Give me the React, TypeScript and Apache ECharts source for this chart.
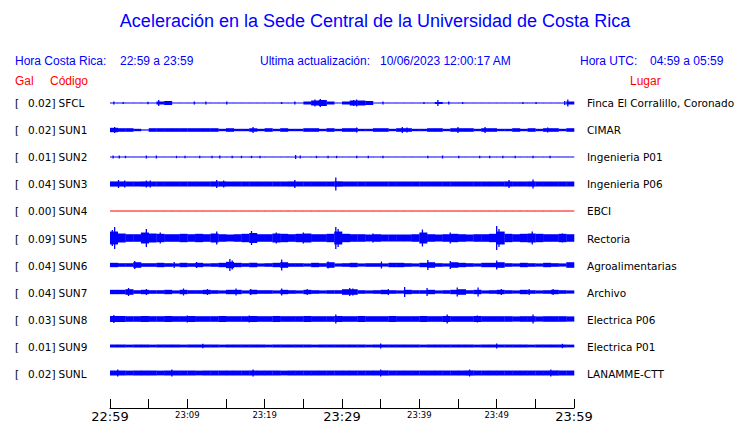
import React, { useEffect, useRef } from "react";
import * as echarts from "echarts";

// ---------- data ----------
const codes = ["SFCL", "SUN1", "SUN2", "SUN3", "SUN4", "SUN5", "SUN6", "SUN7", "SUN8", "SUN9", "SUNL"];
const peakGal = ["0.02", "0.02", "0.01", "0.04", "0.00", "0.09", "0.04", "0.04", "0.03", "0.01", "0.02"];
const places = [
  "Finca El Corralillo, Coronado",
  "CIMAR",
  "Ingenieria P01",
  "Ingenieria P06",
  "EBCI",
  "Rectoria",
  "Agroalimentarias",
  "Archivo",
  "Electrica P06",
  "Electrica P01",
  "LANAMME-CTT",
];
const tickMinutes = [0, 10, 20, 30, 40, 50, 60];
const tickLabels = ["22:59", "23:09", "23:19", "23:29", "23:39", "23:49", "23:59"];
const majorLabels = ["22:59", "23:29", "23:59"];

// per-minute envelope (half amplitude, relative units) for each station
const envSFCL = [0.5,0.5,0.5,0.5,0.5,0.5,1.5,2,0.5,0.5, 0.5,0.5,0.5,0.5,0.5,0.5,0.5,0.5,0.5,0.5, 0.5,0.5,0.5,0.5,0.5,1.5,2.5,3,1.5,0.5, 1.5,2.5,2.5,2,0.5,0.5,0.5,0.5,0.5,0.5, 0.5,0.5,1,0.5,0.5,0.5,0.5,0.5,0.5,0.5, 0.5,0.5,0.5,0.5,0.5,0.5,0.5,0.5,0.5,1.5];
const envSUN1 = [2.2,1.8,1.8,1.2,0.6,1.8,1.8,1.8,1.8,1.8, 1.8,1.8,1.8,1.8,1.2,1.8,1.2,1.2,1.8,1.2, 1.8,1.2,1.8,1.2,1.2,1.8,1.8,1.2,1.8,1.2, 1.8,1.8,1.2,1.2,1.8,1.8,1.2,1.8,1.8,1.2, 1.2,1.8,1.8,1.2,1.8,1.8,1.8,1.2,1.8,1.8, 1.2,1.2,1.8,1.2,1.8,1.2,1.8,1.8,1.2,1.8];
const envSUN2 = [0.5,0.5,0.5,0.5,0.5,0.5,0.5,0.5,0.5,0.5, 0.5,0.5,0.5,0.5,0.5,0.5,0.5,0.5,0.5,0.5, 0.5,0.5,0.5,0.5,0.5,0.5,0.5,0.5,0.5,0.5, 0.5,0.5,0.5,0.5,0.5,0.5,0.5,0.5,0.5,0.5, 0.5,0.5,0.5,0.5,0.5,0.5,0.5,0.5,0.5,0.5, 0.5,0.5,0.5,0.5,0.5,0.5,0.5,0.5,0.5,0.5];
const envSUN3 = [2.6,2.6,2.5,2.5,2.6,2.5,2.5,2.5,2.5,2.5, 2.5,2.5,2.5,2.6,2.6,2.5,2.5,2.5,2.5,2.5, 2.5,2.5,2.5,2.6,2.5,2.5,2.5,2.5,2.5,2.7, 2.5,2.5,2.5,2.5,2.5,2.5,2.5,2.5,2.5,2.5, 2.5,2.5,2.5,2.5,2.5,2.5,2.5,2.5,2.5,2.5, 2.5,2.6,2.5,2.5,2.6,2.5,2.5,2.5,2.5,2.5];
const envSUN4 = [0.5,0.5,0.5,0.5,0.5,0.5,0.5,0.5,0.5,0.5, 0.5,0.5,0.5,0.5,0.5,0.5,0.5,0.5,0.5,0.5, 0.5,0.5,0.5,0.5,0.5,0.5,0.5,0.5,0.5,0.5, 0.5,0.5,0.5,0.5,0.5,0.5,0.5,0.5,0.5,0.5, 0.5,0.5,0.5,0.5,0.5,0.5,0.5,0.5,0.5,0.5, 0.5,0.5,0.5,0.5,0.5,0.5,0.5,0.5,0.5,0.5];
const envSUN5 = [6.5,4.5,3.8,3.8,5.5,4.5,4.2,3.8,3.8,4.2, 3.8,4.2,3.8,4.5,3.8,3.5,3.8,4.2,5,3.8, 3.8,4.5,4.2,3.8,4.2,4.5,3.8,3.8,4.2,6.5, 4.2,3.8,3.8,3.5,3.8,3.5,3.5,3.5,3.5,3.8, 5.5,3.8,3.5,3.8,4.2,3.8,3.5,3.8,3.8,4.2, 6.5,4.2,3.8,4.2,4.5,4.2,3.8,3.8,4.2,3.8];
const envSUN6 = [2.2,1.8,1.8,2.8,1.8,1.8,2.2,1.8,1.6,2.2, 1.8,2.2,1.6,1.8,2.2,3.2,2.2,1.8,2.2,1.6, 1.8,2.2,2.8,1.8,1.8,1.6,2.2,1.8,2.8,1.6, 1.8,2.2,1.6,1.8,1.8,1.6,2.2,2.2,1.8,1.6, 2.2,2.8,1.8,1.6,2.8,2.2,1.8,1.6,2.2,2.2, 2.8,1.8,1.6,2.2,1.8,1.6,2.2,1.8,1.6,2.8];
const envSUN7 = [2.2,2.2,2.8,1.8,2.2,1.8,1.8,2.2,1.6,2.2, 1.8,1.8,2.2,1.8,1.6,2.2,2.2,1.6,2.2,1.8, 1.8,1.6,2.2,1.8,1.6,2.2,1.8,1.6,1.8,1.8, 2.8,2.8,1.8,1.6,1.8,2.2,1.8,1.6,2.2,1.8, 1.8,2.2,1.6,1.8,2.2,2.8,1.8,2.2,1.6,1.8, 2.2,1.8,1.6,2.2,1.8,1.6,1.8,2.2,1.8,1.6];
const envSUN8 = [3,3,2.8,2.8,3,2.8,2.8,3,2.8,2.8, 3,2.8,2.8,2.8,3,2.8,2.8,2.8,3,2.8, 2.8,3,2.8,2.8,2.8,3,2.8,2.8,2.8,3, 2.8,2.8,3,2.8,2.8,2.8,3,2.8,2.8,2.8, 3,2.8,2.8,3,2.8,2.8,2.8,3,2.8,2.8, 2.8,2.8,2.6,2.8,2.8,2.6,2.8,2.8,2.8,2.6];
const envSUN9 = [1.5,1.5,1.4,1.5,1.5,1.4,1.5,1.5,1.5,1.4, 1.5,1.5,1.5,1.5,1.4,1.5,1.5,1.5,1.5,1.5, 1.4,1.5,1.5,1.5,1.5,1.5,1.4,1.5,1.5,1.5, 1.5,1.5,1.5,1.4,1.5,1.5,1.5,1.5,1.5,1.5, 1.4,1.5,1.5,1.5,1.5,1.5,1.5,1.4,1.5,1.5, 1.5,1.5,1.5,1.5,1.4,1.5,1.5,1.5,1.5,1.4];
const envSUNL = [2.5,2.5,2.4,2.5,2.5,2.5,2.4,2.5,2.5,2.5, 2.5,2.4,2.5,2.5,2.5,2.5,2.5,2.5,2.6,2.5, 2.5,2.5,2.4,2.5,2.5,2.5,2.5,2.5,2.5,2.5, 2.5,2.5,2.5,2.5,2.5,2.6,2.5,2.5,2.5,2.5, 2.5,2.5,2.5,2.5,2.5,2.5,2.6,2.5,2.5,2.5, 2.5,2.5,2.5,2.5,2.5,2.5,2.5,2.6,2.5,2.5];

// isolated peaks: [minute, half amplitude]
const pkSFCL = [[0.5,1.5],[1.7,1],[4.9,1.2],[6.3,3],[7.2,2],[10.9,1.5],[12.4,1.5],[15.1,1.5],[22.2,1],[23.9,1.5],[26.5,3.5],[27.2,4],[31.5,3],[31.9,3.5],[35.3,1.5],[40.6,1],[42.4,3],[43.8,1.5],[45.6,1],[53.4,1],[55.1,1],[58.8,2],[59.2,3.5]];
const pkSUN1 = [[0.6,3],[18.5,3],[31.9,2.5],[37.8,3],[38.4,2.5],[45,3],[48.5,3],[56.6,2.5]];
const pkSUN2 = [[0.4,1.5],[1.2,1.5],[2,1.2],[4.7,1.5],[6,1.5],[8.6,1.2],[9.7,1.2],[11.6,1.2],[13.2,1.2],[14.2,1.5],[15.8,1.2],[17,1.2],[18.3,1.2],[19.4,1.2],[24,2],[24.6,1.5],[26.7,1.2],[28.2,1.2],[29.3,1.2],[31.9,1.2],[33.4,1.2],[35.3,1.2],[41.1,1.2],[43,1.5],[45.1,1.2],[47.8,1.2],[49.1,1.2],[50.8,1.2],[52.4,1.2],[54.7,1.2],[56.9,1.2]];
const pkSUN3 = [[1.1,4],[1.9,3.5],[4.7,3.5],[5.2,3.5],[13.8,4],[14.7,3.5],[23.9,4],[29.2,6.5],[51.6,4],[54.7,4.5]];
const pkSUN4: number[][] = [];
const pkSUN5 = [[0.3,8],[0.6,11],[4.7,9],[6.5,5.5],[13.8,6.5],[18.3,7],[21.5,5.5],[25,5.5],[29.2,11],[29.5,9],[34,4.5],[40.4,8.5],[44,5.5],[50,12],[50.3,9],[54.6,6.5],[58.5,4.5]];
const pkSUN6 = [[3.2,4],[8.3,3],[11.2,3],[15.5,6],[15.8,4.5],[22.2,5.5],[28.2,3.5],[35.1,3.5],[41.1,5],[44,4],[50,4.5]];
const pkSUN7 = [[2.4,4],[4.7,3],[9.5,3.5],[12.6,3],[16.3,3.5],[18.2,3],[22.2,3.5],[25.5,3],[31,4],[31.4,3.5],[36,3],[38.1,5],[41,4],[44.9,4.5],[47.6,4.5],[50.6,3],[54.2,3],[57.3,3]];
const pkSUN8 = [[0.5,4],[10,3.5],[18,3.5],[29.2,4.5],[43.6,4.5],[47.5,3.5],[54.7,4.5]];
const pkSUN9 = [[35,2.5],[50,2.5],[12,2.2],[58.5,2.2]];
const pkSUNL = [[1,3.5],[8,3.5],[18.5,3.5],[35,3.5],[46.5,3.5],[57,3.5]];

const envelopes = [envSFCL, envSUN1, envSUN2, envSUN3, envSUN4, envSUN5, envSUN6, envSUN7, envSUN8, envSUN9, envSUNL];
const peaks = [pkSFCL, pkSUN1, pkSUN2, pkSUN3, pkSUN4, pkSUN5, pkSUN6, pkSUN7, pkSUN8, pkSUN9, pkSUNL];

// ---------- layout / style ----------
const W = 740;
const H = 423;
const GRID_LEFT = 110;
const GRID_RIGHT = 166;
const GRID_TOP = 89.5;
const ROW_H = 27.1;
const GRID_H = ROW_H * codes.length;
const AMP_PER_ROW = 27.1; // amplitude units per row spacing
const BLUE = "#0000ff";
const RED = "#ff0000";
const traceColor = (row: number) => (codes[row] === "SUN4" ? RED : BLUE);
const SANS = "'Liberation Sans', Arial, sans-serif";
const DEJAVU = "'DejaVu Sans', sans-serif";

export default function App() {
  const ref = useRef<HTMLDivElement>(null);

  useEffect(() => {
    if (!ref.current) return;
    const chart = echarts.init(ref.current, undefined, { renderer: "svg" });

    const bandData: number[][] = [];
    envelopes.forEach((env, row) => env.forEach((a, m) => bandData.push([m, row, a])));
    const peakData: number[][] = [];
    peaks.forEach((list, row) => list.forEach(([t, a]) => peakData.push([t, row, a])));

    const rowY = (i: number) => GRID_TOP + (i + 0.5) * ROW_H;
    const txt = (text: string, x: number, y: number, font: string, fill: string, align = "left") => ({
      type: "text",
      x,
      y,
      silent: true,
      style: { text, font, fill, align, textAlign: align, verticalAlign: "middle", textVerticalAlign: "middle" },
    });

    const graphics: any[] = [
      txt("Aceleración en la Sede Central de la Universidad de Costa Rica", 375, 21, `18px ${SANS}`, BLUE, "center"),
      txt("Hora Costa Rica:", 15, 61, `12px ${SANS}`, BLUE),
      txt("22:59 a 23:59", 120, 61, `12px ${SANS}`, BLUE),
      txt("Ultima actualización:", 260, 61, `12px ${SANS}`, BLUE),
      txt("10/06/2023 12:00:17 AM", 380, 61, `12px ${SANS}`, BLUE),
      txt("Hora UTC:", 580, 61, `12px ${SANS}`, BLUE),
      txt("04:59 a 05:59", 650, 61, `12px ${SANS}`, BLUE),
      txt("Gal", 15, 80.5, `12px ${SANS}`, RED),
      txt("Código", 50, 80.5, `12px ${SANS}`, RED),
      txt("Lugar", 630, 80.5, `12px ${SANS}`, RED),
    ];
    codes.forEach((c, i) => {
      const y = rowY(i);
      graphics.push(txt("[", 15, y, `10.5px ${DEJAVU}`, "#000"));
      graphics.push(txt(`${peakGal[i]}]`, 55.5, y, `10.5px ${DEJAVU}`, "#000", "right"));
      graphics.push(txt(c, 58.5, y, `10.5px ${DEJAVU}`, "#000"));
      graphics.push(txt(places[i], 587, y, `10.5px ${DEJAVU}`, "#000"));
    });

    chart.setOption({
      animation: false,
      backgroundColor: "#ffffff",
      grid: { left: GRID_LEFT, right: GRID_RIGHT, top: GRID_TOP, height: GRID_H, containLabel: false },
      xAxis: {
        type: "value",
        min: 0,
        max: 60,
        interval: 5,
        position: "bottom",
        offset: 21.5,
        axisLine: { show: true, onZero: false, lineStyle: { color: "#000", width: 1 } },
        axisTick: { show: true, inside: true, length: 9, lineStyle: { color: "#000", width: 1 } },
        splitLine: { show: false },
        axisLabel: {
          margin: 1,
          showMinLabel: true,
          showMaxLabel: true,
          formatter: (v: number) => {
            const idx = tickMinutes.indexOf(Math.round(v));
            if (idx < 0 || Math.abs(v - tickMinutes[idx]) > 1e-6) return "";
            const lab = tickLabels[idx];
            return majorLabels.includes(lab) ? `{big|${lab}}` : `{small|${lab}}`;
          },
          rich: {
            big: { fontSize: 13, fontFamily: DEJAVU, color: "#000", lineHeight: 15 },
            small: { fontSize: 8.5, fontFamily: DEJAVU, color: "#000", lineHeight: 11 },
          },
        },
      },
      yAxis: {
        type: "value",
        min: -0.5,
        max: codes.length - 0.5,
        inverse: true,
        show: false,
        splitLine: { show: false },
      },
      series: [
        {
          type: "custom",
          name: "envolvente",
          data: bandData,
          encode: { x: 0, y: 1 },
          renderItem: (params: any, api: any) => {
            const t = api.value(0);
            const row = api.value(1);
            const a = api.value(2) / AMP_PER_ROW;
            const p1 = api.coord([t, row - a]);
            const p2 = api.coord([t + 1, row + a]);
            return {
              type: "rect",
              shape: {
                x: p1[0],
                y: Math.min(p1[1], p2[1]),
                width: p2[0] - p1[0] + 0.3,
                height: Math.abs(p2[1] - p1[1]),
              },
              style: { fill: traceColor(row) },
            };
          },
        },
        {
          type: "custom",
          name: "picos",
          data: peakData,
          encode: { x: 0, y: 1 },
          renderItem: (params: any, api: any) => {
            const t = api.value(0);
            const row = api.value(1);
            const a = api.value(2) / AMP_PER_ROW;
            const p1 = api.coord([t, row - a]);
            const p2 = api.coord([t, row + a]);
            return {
              type: "line",
              shape: { x1: p1[0], y1: p1[1], x2: p2[0], y2: p2[1] },
              style: { stroke: traceColor(row), lineWidth: 1.3 },
            };
          },
        },
      ],
      graphic: graphics,
    });

    return () => chart.dispose();
  }, []);

  return (
    <div
      ref={ref}
      style={{ position: "fixed", left: 0, top: 0, width: W, height: H, background: "#fff" }}
    />
  );
}
